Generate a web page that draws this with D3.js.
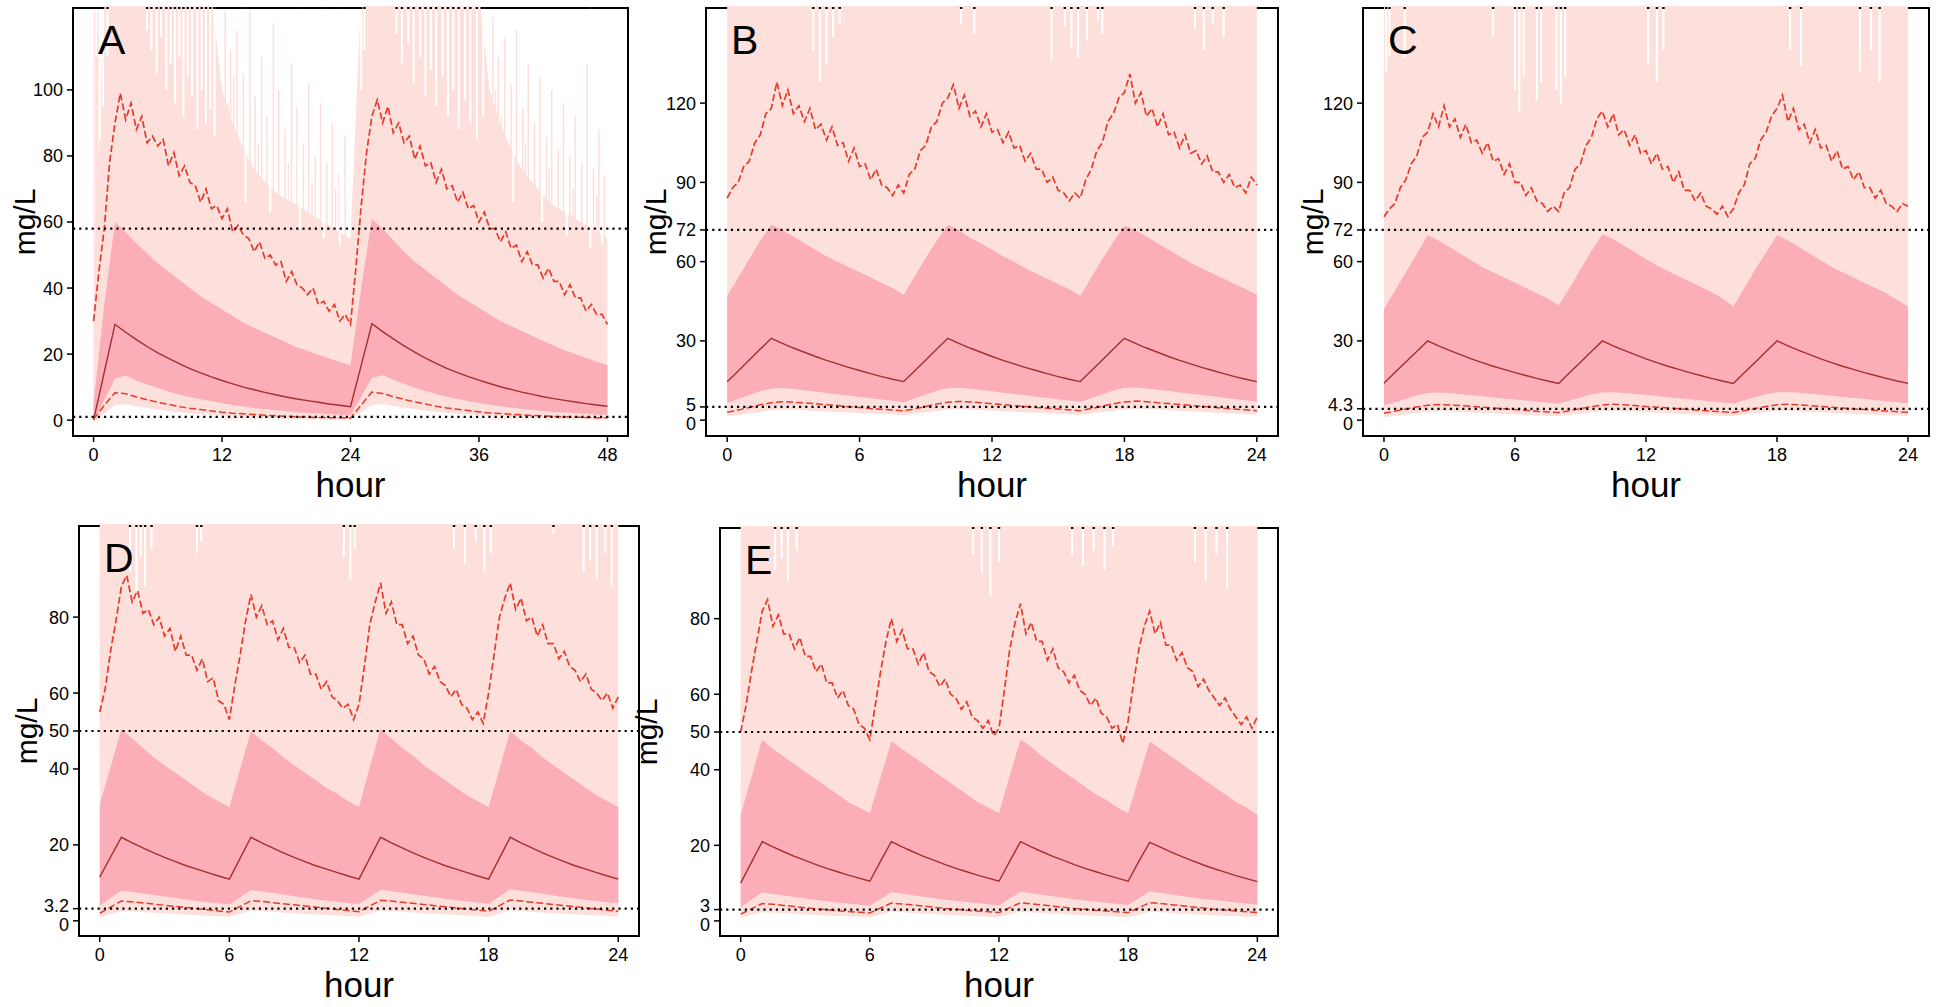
<!DOCTYPE html>
<html>
<head>
<meta charset="utf-8">
<script src="https://cdn.jsdelivr.net/npm/d3@7"></script>
<style>
  body { margin: 0; background: #fff; }
  svg text { font-family: "Liberation Sans", Arial, sans-serif; fill: #000; }
</style>
</head>
<body>
<svg id="chart" width="1946" height="1007"></svg>
<script>
// ---- Panel A: 0-48 h, band/median series every 1 h, upper dashed every 0.5 h
const aMedian = [0, 14.5, 29, 26.6, 24.4, 22.3, 20.4, 18.7, 17.1, 15.6, 14.3, 13.1, 12.0, 11.0, 10.0, 9.2, 8.4, 7.7, 7.0, 6.4, 5.9, 5.4, 4.9, 4.5, 4.1,
  16.6, 29.2, 26.8, 24.6, 22.5, 20.6, 18.8, 17.2, 15.7, 14.4, 13.2, 12.1, 11.1, 10.1, 9.3, 8.5, 7.8, 7.1, 6.5, 6.0, 5.5, 5.0, 4.6, 4.2];
const aInnerHi = [5, 35, 60, 57, 53.5, 50.5, 47.5, 45, 42.5, 40, 37.5, 35.5, 33.5, 31.5, 29.5, 28, 26.5, 25, 23.5, 22, 21, 19.8, 18.7, 17.6, 16.6,
  40, 61, 58, 54.5, 51, 48, 45.5, 43, 40.5, 38, 36, 34, 32, 30, 28.5, 27, 25.5, 24, 22.5, 21.2, 20, 18.8, 17.7, 16.7];
const aInnerLo = [0, 6, 12.5, 13.5, 12, 10.8, 9.7, 8.7, 7.8, 7, 6.3, 5.7, 5.1, 4.6, 4.1, 3.7, 3.3, 3, 2.7, 2.4, 2.2, 2, 1.8, 1.6, 1.5,
  7, 12.8, 13.6, 12.2, 11, 9.8, 8.8, 7.9, 7.1, 6.4, 5.8, 5.2, 4.7, 4.2, 3.8, 3.4, 3.1, 2.8, 2.5, 2.3, 2.1, 1.9, 1.7, 1.6];
const aOuterLo = [0, 2, 4.5, 4.8, 4.2, 3.7, 3.2, 2.8, 2.4, 2.1, 1.8, 1.6, 1.4, 1.2, 1, 0.9, 0.8, 0.7, 0.6, 0.5, 0.45, 0.4, 0.35, 0.3, 0.3,
  2.5, 4.6, 4.9, 4.3, 3.8, 3.3, 2.9, 2.5, 2.2, 1.9, 1.7, 1.5, 1.3, 1.1, 1, 0.9, 0.8, 0.7, 0.6, 0.5, 0.45, 0.4, 0.35, 0.3];
const aOuterHi = [35, 200, 200, 200, 200, 200, 200, 200, 200, 200, 200, 200, 100, 90, 82, 76, 72, 69, 67, 65, 63, 61, 59, 57, 55,
  200, 200, 200, 200, 200, 200, 200, 200, 200, 200, 200, 200, 100, 90, 82, 76, 72, 68, 65, 63, 61, 59, 57, 55];
const aLoDash = [0.3, 4.5, 8.3, 8, 7, 6.2, 5.4, 4.8, 4.1, 3.6, 3.2, 2.8, 2.4, 2.1, 1.9, 1.7, 1.5, 1.3, 1.2, 1, 0.9, 0.8, 0.75, 0.7, 0.6,
  4.6, 8.5, 8.1, 7.1, 6.3, 5.5, 4.9, 4.2, 3.7, 3.3, 2.9, 2.5, 2.2, 2, 1.8, 1.6, 1.4, 1.3, 1.1, 1, 0.9, 0.8, 0.75, 0.7];
const aHiDash = [30, 45, 58, 78, 90, 99, 91, 96, 88, 92, 84, 86, 83, 85, 77, 81, 74, 77, 72, 71,
  66, 70, 64, 65, 61, 64, 57, 59, 56, 55, 51, 54, 49, 50, 47, 48, 42, 45, 41, 40, 38, 40, 35, 36, 33, 35, 30, 32, 29,
  46, 65, 81, 92, 97, 90, 95, 87, 90, 84, 86, 79, 83, 77, 78, 72, 76, 70, 71, 66,
  69, 64, 65, 60, 63, 58, 58, 54, 57, 52, 53, 48, 51, 47, 47, 43, 46, 42, 42, 38, 41, 37, 37, 33, 35, 32, 32, 29];
const aWhiteSpikes = [[0.6, 85], [0.9, 95], [1.3, 110], [5.0, 118], [5.4, 112], [5.9, 105], [6.3, 116], [6.8, 100], [7.2, 108],
  [7.6, 96], [8.0, 110], [8.4, 92], [8.8, 104], [9.2, 98], [9.7, 88], [10.1, 100], [10.5, 90], [10.9, 94], [11.3, 86],
  [25.0, 100], [25.3, 112], [28.3, 117], [28.8, 108], [29.4, 114], [29.9, 102], [30.5, 110], [31.0, 98], [31.5, 106],
  [32.0, 95], [32.6, 104], [33.1, 92], [33.6, 100], [34.1, 88], [34.7, 97], [35.2, 90], [35.8, 85], [36.4, 92],
  [14.2, 66], [16.5, 63], [19.3, 58], [21.5, 55], [23.0, 53], [39.2, 66], [41.9, 60], [44.2, 56], [46.4, 52], [47.5, 53]];
const aPinkSpikes = [[0.1, 124], [0.25, 110], [0.4, 124], [12.3, 124], [12.8, 112], [13.4, 118], [14.0, 105], [14.6, 124],
  [15.1, 98], [15.7, 110], [16.2, 92], [16.8, 120], [17.3, 100], [17.9, 88], [18.5, 108], [19.0, 95], [19.6, 84], [20.1, 102],
  [20.7, 80], [21.2, 96], [21.8, 78], [22.3, 90], [22.9, 75], [23.5, 86], [12.55, 96], [13.1, 104], [15.4, 84], [18.2, 78],
  [20.4, 72], [22.6, 70], [37.3, 122], [37.8, 110], [38.4, 116], [39.0, 102], [39.5, 118], [40.1, 95], [40.6, 108], [41.2, 90],
  [41.7, 104], [42.3, 86], [42.8, 100], [43.4, 82], [43.9, 96], [44.5, 80], [45.0, 92], [45.6, 78], [46.1, 108], [46.7, 76],
  [47.2, 88], [47.7, 74], [37.55, 100], [38.1, 92], [40.35, 84], [42.55, 76], [44.8, 70], [47.0, 68]];

// ---- Panel B: 0-24 h, band/median every 0.5 h, upper dashed every 0.25 h
const bMedian = [14.5, 18.6, 22.8, 26.9, 31, 29.1, 27.3, 25.7, 24.1, 22.6, 21.3, 20, 18.8, 17.6, 16.5, 15.5, 14.6,
  18.7, 22.8, 26.9, 31, 29.1, 27.3, 25.7, 24.1, 22.6, 21.3, 20, 18.8, 17.6, 16.5, 15.5, 14.6,
  18.7, 22.8, 26.9, 31, 29.1, 27.3, 25.7, 24.1, 22.6, 21.3, 20, 18.8, 17.6, 16.5, 15.5, 14.6];
const bInnerHi = [47, 54, 61, 68, 74, 72, 69.5, 67, 64.5, 62, 60, 58, 56, 54, 52, 50, 47.5,
  54.5, 61.5, 68, 74, 72, 69, 67, 64.5, 62, 60, 57.5, 55.5, 53.5, 51.5, 49.5, 47,
  54, 61, 67.5, 73.5, 72, 69.5, 67, 64.5, 62, 59.5, 57.5, 55.5, 53.5, 51.5, 49.5, 47.5];
const bInnerLo = [6.5, 8, 9.5, 11, 12, 12.2, 11.8, 11.3, 10.8, 10.3, 9.8, 9.3, 8.8, 8.3, 7.8, 7.3, 6.8,
  8.2, 9.7, 11.1, 12.1, 12.3, 11.9, 11.4, 10.9, 10.4, 9.9, 9.4, 8.9, 8.4, 7.9, 7.4, 6.9,
  8.3, 9.8, 11.2, 12.2, 12.4, 12, 11.5, 11, 10.5, 10, 9.5, 9, 8.5, 8, 7.5, 7];
const bOuterLo = [1.5, 1.9, 2.5, 3.1, 3.7, 4, 3.9, 3.7, 3.5, 3.3, 3.1, 2.9, 2.7, 2.5, 2.3, 2.1, 1.9,
  2.4, 3, 3.5, 3.9, 4.1, 4, 3.8, 3.6, 3.4, 3.2, 3, 2.8, 2.6, 2.4, 2.2, 2,
  2.5, 3.1, 3.6, 4, 4.2, 4.1, 3.9, 3.7, 3.5, 3.3, 3.1, 2.9, 2.7, 2.5, 2.3, 2.1];
const bLoDash = [3, 3.8, 4.8, 5.8, 6.6, 7, 6.8, 6.5, 6.2, 5.8, 5.5, 5.1, 4.8, 4.4, 4.1, 3.8, 3.5,
  4.3, 5.2, 6.1, 6.8, 7.1, 6.9, 6.6, 6.2, 5.9, 5.5, 5.2, 4.8, 4.5, 4.2, 3.9, 3.6,
  4.4, 5.3, 6.2, 6.9, 7.2, 7, 6.6, 6.3, 5.9, 5.6, 5.2, 4.9, 4.5, 4.2, 3.9, 3.6];
const bHiDash = [84, 88, 90, 96, 98, 105, 108, 116, 118, 128, 119, 125, 116, 119, 113, 118, 110, 112, 106, 111,
  104, 105, 98, 103, 96, 97, 91, 95, 89, 88, 85, 89, 86,
  93, 95, 102, 104, 111, 113, 120, 122, 127, 118, 123, 115, 117, 111, 116, 109, 110, 105, 109, 103,
  104, 98, 101, 95, 95, 90, 92, 87, 86, 83, 86, 84,
  91, 95, 102, 105, 113, 116, 122, 124, 131, 120, 124, 115, 118, 111, 116, 108, 109, 103, 108, 101,
  102, 97, 100, 94, 94, 90, 93, 88, 89, 86, 92, 89];
const bWhiteSpikes = [[3.9, 140], [4.2, 128], [4.5, 135], [4.8, 145], [5.1, 150], [10.6, 150], [11.2, 146], [14.7, 136],
  [15.3, 149], [15.6, 141], [15.9, 137], [16.3, 144], [16.8, 151], [17.0, 146], [21.2, 148], [21.6, 140], [22.0, 150], [22.5, 145]];

// ---- Panel C
const cMedian = [14, 18, 22, 26, 30, 28.1, 26.4, 24.8, 23.2, 21.8, 20.4, 19.2, 18, 16.9, 15.8, 14.8, 13.9,
  17.9, 21.9, 26, 30, 28.1, 26.4, 24.8, 23.2, 21.8, 20.4, 19.2, 18, 16.9, 15.8, 14.8, 13.9,
  17.9, 21.9, 26, 30, 28.1, 26.4, 24.8, 23.2, 21.8, 20.4, 19.2, 18, 16.9, 15.8, 14.8, 13.9];
const cInnerHi = [42, 49, 56, 63, 70, 68, 65.5, 63, 60.5, 58, 56, 54, 52, 50, 48, 46, 43.5,
  50, 57, 64, 70.5, 68.5, 66, 63.5, 61, 58.5, 56.5, 54.5, 52.5, 50.5, 48.5, 46, 43,
  50, 57, 63.5, 70, 68, 65.5, 63, 60.5, 58, 56, 54, 52, 50, 48, 45.5, 43];
const cInnerLo = [5.5, 6.8, 8.1, 9.4, 10.3, 10.5, 10.2, 9.8, 9.4, 9, 8.6, 8.2, 7.8, 7.4, 7, 6.6, 6.2,
  7.4, 8.6, 9.7, 10.5, 10.6, 10.3, 9.9, 9.5, 9.1, 8.7, 8.3, 7.9, 7.5, 7.1, 6.7, 6.3,
  7.5, 8.7, 9.8, 10.6, 10.7, 10.4, 10, 9.6, 9.2, 8.8, 8.4, 8, 7.6, 7.2, 6.8, 6.4];
const cOuterLo = [1.2, 1.6, 2.1, 2.7, 3.2, 3.4, 3.3, 3.1, 2.9, 2.7, 2.5, 2.3, 2.1, 1.9, 1.8, 1.6, 1.5,
  2, 2.5, 3, 3.4, 3.5, 3.4, 3.2, 3, 2.8, 2.6, 2.4, 2.2, 2, 1.9, 1.7, 1.6,
  2.1, 2.6, 3.1, 3.5, 3.6, 3.4, 3.2, 3, 2.8, 2.6, 2.4, 2.2, 2, 1.9, 1.7, 1.6];
const cLoDash = [2.6, 3.4, 4.2, 5, 5.6, 5.9, 5.7, 5.5, 5.2, 4.9, 4.6, 4.3, 4, 3.7, 3.4, 3.1, 2.9,
  3.6, 4.4, 5.1, 5.7, 6, 5.8, 5.5, 5.2, 4.9, 4.6, 4.3, 4, 3.7, 3.4, 3.2, 2.9,
  3.6, 4.4, 5.2, 5.8, 6, 5.8, 5.5, 5.2, 4.9, 4.6, 4.3, 4, 3.7, 3.5, 3.2, 3];
const cHiDash = [77, 80, 82, 88, 91, 97, 100, 107, 109, 116, 111, 119, 111, 114, 107, 112, 105, 106, 101, 105,
  98, 99, 93, 97, 90, 90, 85, 88, 83, 82, 79, 81, 79,
  86, 88, 95, 97, 104, 107, 114, 117, 111, 116, 108, 110, 104, 108, 101, 102, 97, 101, 95, 96,
  90, 94, 87, 87, 83, 86, 81, 80, 78, 81, 77, 80,
  86, 89, 97, 99, 106, 109, 115, 118, 123, 113, 118, 110, 112, 105, 110, 103, 104, 98, 102, 95,
  96, 91, 94, 88, 88, 84, 87, 82, 81, 79, 82, 81];
const cWhiteSpikes = [[0.1, 132], [0.25, 138], [0.95, 137], [5.0, 145], [6.0, 125], [6.2, 117], [6.4, 130], [7.0, 121],
  [7.2, 128], [7.9, 125], [8.1, 120], [8.3, 130], [12.1, 135], [12.5, 128], [12.8, 140], [18.6, 140], [19.1, 134],
  [21.8, 132], [22.3, 140], [22.7, 128]];

// ---- Panel D
const dMedian = [11.5, 16.8, 22, 20.5, 19.2, 17.9, 16.7, 15.6, 14.5, 13.6, 12.7, 11.8, 11,
  16.5, 22, 20.5, 19.2, 17.9, 16.7, 15.6, 14.5, 13.6, 12.7, 11.8, 11,
  16.5, 22, 20.5, 19.2, 17.9, 16.7, 15.6, 14.5, 13.6, 12.7, 11.8, 11,
  16.5, 22, 20.5, 19.2, 17.9, 16.7, 15.6, 14.5, 13.6, 12.7, 11.8, 11];
const dInnerHi = [30.5, 40.5, 50.5, 48, 45.5, 43, 41, 39, 37, 35, 33, 31.5, 30,
  40, 50, 47.5, 45.5, 43, 41, 39, 37, 35, 33.5, 31.5, 30,
  40.5, 50.5, 48, 45.5, 43.5, 41, 39, 37, 35, 33, 31.5, 30,
  40, 50, 47.5, 45.5, 43, 41, 39, 37, 35, 33, 31.5, 30];
const dInnerLo = [4, 6, 8, 7.6, 7.2, 6.8, 6.4, 6, 5.6, 5.2, 4.9, 4.6, 4.3,
  6.2, 8.1, 7.7, 7.3, 6.9, 6.5, 6.1, 5.7, 5.3, 5, 4.7, 4.4,
  6.3, 8.2, 7.8, 7.4, 7, 6.6, 6.2, 5.8, 5.4, 5.1, 4.8, 4.5,
  6.4, 8.3, 7.9, 7.5, 7.1, 6.7, 6.3, 5.9, 5.5, 5.2, 4.9, 4.6];
const dOuterLo = [1, 1.8, 2.6, 2.5, 2.3, 2.1, 2, 1.8, 1.6, 1.5, 1.3, 1.2, 1.1,
  1.9, 2.7, 2.6, 2.4, 2.2, 2, 1.8, 1.7, 1.5, 1.4, 1.2, 1.1,
  1.9, 2.7, 2.6, 2.4, 2.2, 2, 1.8, 1.7, 1.5, 1.4, 1.2, 1.1,
  1.9, 2.8, 2.6, 2.4, 2.2, 2, 1.8, 1.7, 1.5, 1.4, 1.2, 1.1];
const dLoDash = [2, 3.6, 5.2, 5, 4.7, 4.4, 4.1, 3.8, 3.5, 3.2, 2.9, 2.6, 2.3,
  3.8, 5.3, 5.1, 4.8, 4.5, 4.2, 3.9, 3.6, 3.3, 3, 2.7, 2.4,
  3.9, 5.4, 5.2, 4.9, 4.6, 4.3, 4, 3.7, 3.4, 3.1, 2.8, 2.5,
  4, 5.5, 5.2, 4.9, 4.6, 4.3, 4, 3.7, 3.4, 3.1, 2.8, 2.5];
const dHiDash = [55, 61, 71, 79, 88, 91, 84, 87, 81, 82, 78, 80, 75, 77, 71, 75, 70, 70, 66, 69, 63, 64, 58, 57, 53,
  62, 70, 79, 86, 80, 83, 78, 79, 74, 77, 72, 72, 68, 70, 65, 65, 61, 63, 59, 58, 56, 57, 53, 57,
  67, 78, 84, 89, 81, 84, 78, 78, 73, 75, 70, 69, 65, 67, 63, 62, 59, 61, 57, 56, 53, 55, 52, 60,
  70, 80, 85, 89, 82, 85, 79, 80, 75, 78, 73, 73, 69, 71, 67, 66, 63, 65, 61, 60, 58, 60, 56, 59];
const dWhiteSpikes = [[1.4, 92], [1.7, 85], [1.9, 96], [2.1, 88], [2.4, 98], [4.5, 97], [4.7, 100], [11.3, 96], [11.6, 90],
  [11.8, 98], [16.4, 98], [16.9, 94], [17.4, 100], [17.8, 92], [18.1, 97], [21.0, 102], [22.4, 92], [22.7, 95], [23.0, 90],
  [23.4, 97], [23.7, 88]];

// ---- Panel E
const eMedian = [10, 15.5, 21, 19.6, 18.3, 17.1, 16, 14.9, 13.9, 13, 12.1, 11.3, 10.5,
  15.8, 21, 19.6, 18.3, 17.1, 16, 14.9, 13.9, 13, 12.1, 11.3, 10.5,
  15.8, 21, 19.6, 18.3, 17.1, 16, 14.9, 13.9, 13, 12.1, 11.3, 10.5,
  15.8, 20.8, 19.5, 18.2, 17, 15.9, 14.8, 13.8, 12.9, 12, 11.2, 10.4];
const eInnerHi = [28, 38, 48, 45.5, 43.5, 41.5, 39.5, 37.5, 35.5, 33.5, 31.5, 30, 28.5,
  38, 47.5, 45.5, 43.5, 41.5, 39.5, 37.5, 35.5, 33.5, 31.5, 30, 28.5,
  38.5, 48, 46, 43.5, 41.5, 39.5, 37.5, 35.5, 33.5, 32, 30, 28.5,
  38, 47.5, 45.5, 43.5, 41.5, 39.5, 37.5, 35.5, 33.5, 31.5, 30, 28];
const eInnerLo = [3.6, 5.6, 7.5, 7.1, 6.7, 6.3, 5.9, 5.5, 5.2, 4.9, 4.6, 4.3, 4,
  5.8, 7.6, 7.2, 6.8, 6.4, 6, 5.6, 5.3, 5, 4.7, 4.4, 4.1,
  5.9, 7.7, 7.3, 6.9, 6.5, 6.1, 5.7, 5.4, 5.1, 4.8, 4.5, 4.2,
  6, 7.8, 7.4, 7, 6.6, 6.2, 5.8, 5.5, 5.2, 4.9, 4.6, 4.3];
const eOuterLo = [0.9, 1.6, 2.3, 2.2, 2, 1.9, 1.7, 1.6, 1.4, 1.3, 1.2, 1.1, 1,
  1.7, 2.4, 2.3, 2.1, 1.9, 1.8, 1.6, 1.5, 1.3, 1.2, 1.1, 1,
  1.7, 2.4, 2.3, 2.1, 1.9, 1.8, 1.6, 1.5, 1.3, 1.2, 1.1, 1,
  1.7, 2.4, 2.3, 2.1, 1.9, 1.8, 1.6, 1.5, 1.3, 1.2, 1.1, 1];
const eLoDash = [1.8, 3.2, 4.6, 4.4, 4.1, 3.8, 3.5, 3.2, 3, 2.7, 2.5, 2.3, 2.1,
  3.4, 4.7, 4.5, 4.2, 3.9, 3.6, 3.3, 3.1, 2.8, 2.6, 2.4, 2.2,
  3.5, 4.8, 4.5, 4.2, 3.9, 3.6, 3.3, 3.1, 2.8, 2.6, 2.4, 2.2,
  3.5, 4.8, 4.6, 4.3, 4, 3.7, 3.4, 3.1, 2.9, 2.6, 2.4, 2.2];
const eHiDash = [50, 57, 66, 74, 82, 85, 78, 81, 76, 76, 72, 75, 70, 70, 66, 68, 63, 63, 59, 61, 57, 56, 52, 51, 48,
  57, 66, 74, 80, 74, 77, 72, 72, 68, 71, 66, 65, 62, 64, 60, 59, 56, 58, 54, 53, 51, 53, 49, 51,
  61, 72, 79, 84, 76, 79, 74, 74, 69, 72, 67, 66, 63, 65, 61, 60, 57, 59, 55, 54, 51, 52, 47, 53,
  63, 72, 78, 82, 76, 79, 73, 73, 69, 71, 67, 66, 62, 64, 61, 59, 57, 59, 56, 54, 52, 54, 51, 54];
const eWhiteSpikes = [[1.6, 93], [1.9, 96], [2.2, 90], [2.6, 98], [10.8, 97], [11.2, 92], [11.6, 86], [12.0, 95], [15.4, 97],
  [15.9, 94], [16.4, 98], [16.9, 93], [17.3, 99], [21.1, 95], [21.6, 90], [22.1, 97], [22.6, 88]];

// axis ticks and threshold lines
const ticksA = [0, 20, 40, 60, 80, 100];
const ticksB = [0, 5, 30, 60, 72, 90, 120];
const ticksC = [0, 4.3, 30, 60, 72, 90, 120];
const ticksD = [0, 3.2, 20, 40, 50, 60, 80];
const ticksE = [0, 3, 20, 40, 50, 60, 80];
const hourTicks48 = [0, 12, 24, 36, 48];
const hourTicks24 = [0, 6, 12, 18, 24];
const cutsA = [58, 1];
const cutsB = [72, 5];
const cutsC = [72, 4.3];
const cutsD = [50, 3.2];
const cutsE = [50, 3];

// layout: frame [left, top, right, bottom], x of y-label
const panels = [
  { id: "A", box: [73, 8, 628, 436], ylabX: 24, xMax: 48, yMax: 120, step: 1, dashStep: 0.5, xTicks: hourTicks48, yTicks: ticksA, cuts: cutsA,
    median: aMedian, innerHi: aInnerHi, innerLo: aInnerLo, outerLo: aOuterLo, outerHi: aOuterHi, loDash: aLoDash, hiDash: aHiDash,
    whiteSpikes: aWhiteSpikes, pinkSpikes: aPinkSpikes },
  { id: "B", box: [706, 8, 1278, 436], ylabX: 655, xMax: 24, yMax: 150, step: 0.5, dashStep: 0.25, xTicks: hourTicks24, yTicks: ticksB, cuts: cutsB,
    median: bMedian, innerHi: bInnerHi, innerLo: bInnerLo, outerLo: bOuterLo, loDash: bLoDash, hiDash: bHiDash, whiteSpikes: bWhiteSpikes },
  { id: "C", box: [1363, 8, 1929, 436], ylabX: 1312, xMax: 24, yMax: 150, step: 0.5, dashStep: 0.25, xTicks: hourTicks24, yTicks: ticksC, cuts: cutsC,
    median: cMedian, innerHi: cInnerHi, innerLo: cInnerLo, outerLo: cOuterLo, loDash: cLoDash, hiDash: cHiDash, whiteSpikes: cWhiteSpikes },
  { id: "D", box: [79, 526, 639, 936], ylabX: 26, xMax: 24, yMax: 100, step: 0.5, dashStep: 0.25, xTicks: hourTicks24, yTicks: ticksD, cuts: cutsD,
    median: dMedian, innerHi: dInnerHi, innerLo: dInnerLo, outerLo: dOuterLo, loDash: dLoDash, hiDash: dHiDash, whiteSpikes: dWhiteSpikes },
  { id: "E", box: [720, 528, 1278, 936], ylabX: 646, xMax: 24, yMax: 100, step: 0.5, dashStep: 0.25, xTicks: hourTicks24, yTicks: ticksE, cuts: cutsE,
    median: eMedian, innerHi: eInnerHi, innerLo: eInnerLo, outerLo: eOuterLo, loDash: eLoDash, hiDash: eHiDash, whiteSpikes: eWhiteSpikes }
];

const colOuter = "#fde0dc";
const colInner = "#fbaeb8";
const colMedian = "#a3302f";
const colDash = "#e63a2c";

const svg = d3.select("#chart");

function drawPanel(p) {
  const [L, T, R, B] = p.box;
  // base R style 4% padding on both axes
  const x = d3.scaleLinear().domain([-0.04 * p.xMax, 1.04 * p.xMax]).range([L, R]);
  const y = d3.scaleLinear().domain([-0.04 * p.yMax, 1.04 * p.yMax]).range([B, T]);
  const yTop = 1.04 * p.yMax + 4;
  const g = svg.append("g");

  svg.append("clipPath").attr("id", "clip" + p.id)
    .append("rect").attr("x", L).attr("y", T - 2).attr("width", R - L).attr("height", B - T + 2);

  // frame first, the outer band paints over its top edge like the original
  g.append("rect").attr("x", L).attr("y", T).attr("width", R - L).attr("height", B - T)
    .attr("fill", "none").attr("stroke", "#000").attr("stroke-width", 2);

  const plot = g.append("g").attr("clip-path", `url(#clip${p.id})`);
  const rows = p.median.map((m, i) => ({
    t: i * p.step, m,
    iHi: p.innerHi[i], iLo: p.innerLo[i], oLo: p.outerLo[i],
    oHi: p.outerHi ? Math.min(p.outerHi[i], yTop) : yTop,
    dLo: p.loDash[i]
  }));
  const dashRows = p.hiDash.map((v, i) => ({ t: i * p.dashStep, v }));

  plot.append("path").datum(rows).attr("fill", colOuter)
    .attr("d", d3.area().x(d => x(d.t)).y0(d => y(d.oLo)).y1(d => y(d.oHi)));

  if (p.pinkSpikes) {
    plot.selectAll(".pspike").data(p.pinkSpikes).join("line")
      .attr("x1", d => x(d[0])).attr("x2", d => x(d[0]))
      .attr("y1", d => y(d[1])).attr("y2", y(0))
      .attr("stroke", colOuter).attr("stroke-width", 1.5);
  }
  plot.selectAll(".wspike").data(p.whiteSpikes).join("line")
    .attr("x1", d => x(d[0])).attr("x2", d => x(d[0]))
    .attr("y1", y(yTop)).attr("y2", d => y(d[1]))
    .attr("stroke", "#fff").attr("stroke-width", 2);
  // frame edge shows through the gaps
  plot.selectAll(".wtop").data(p.whiteSpikes).join("line")
    .attr("x1", d => x(d[0]) - 1.2).attr("x2", d => x(d[0]) + 1.2)
    .attr("y1", T).attr("y2", T)
    .attr("stroke", "#000").attr("stroke-width", 2);

  plot.append("path").datum(rows).attr("fill", colInner)
    .attr("d", d3.area().x(d => x(d.t)).y0(d => y(d.iLo)).y1(d => y(d.iHi)));

  plot.append("path").datum(rows).attr("fill", "none")
    .attr("stroke", colMedian).attr("stroke-width", 1.4)
    .attr("d", d3.line().x(d => x(d.t)).y(d => y(d.m)));

  plot.append("path").datum(rows).attr("fill", "none")
    .attr("stroke", colDash).attr("stroke-width", 1.5).attr("stroke-dasharray", "7,3")
    .attr("d", d3.line().x(d => x(d.t)).y(d => y(d.dLo)));

  plot.append("path").datum(dashRows).attr("fill", "none")
    .attr("stroke", colDash).attr("stroke-width", 1.7).attr("stroke-dasharray", "7,3")
    .attr("d", d3.line().x(d => x(d.t)).y(d => y(d.v)));

  // threshold lines
  g.selectAll(".cut").data(p.cuts).join("line")
    .attr("x1", L).attr("x2", R).attr("y1", d => y(d)).attr("y2", d => y(d))
    .attr("stroke", "#000").attr("stroke-width", 2.2).attr("stroke-dasharray", "2.2,4");

  // axes; labels that sit too close (threshold next to 0) are spread a little
  const labelY = p.yTicks.map(v => y(v));
  for (let i = 1; i < labelY.length; i++) {
    const gap = labelY[i - 1] - labelY[i];
    if (gap < 19) {
      labelY[i - 1] += (19 - gap) / 2;
      labelY[i] -= (19 - gap) / 2;
    }
  }
  const yAxis = g.append("g");
  yAxis.selectAll("line").data(p.yTicks).join("line")
    .attr("x1", L - 6).attr("x2", L).attr("y1", d => y(d)).attr("y2", d => y(d))
    .attr("stroke", "#000").attr("stroke-width", 1.5);
  yAxis.selectAll("text").data(p.yTicks).join("text")
    .attr("x", L - 10).attr("y", (d, i) => labelY[i]).attr("dy", "0.36em")
    .attr("text-anchor", "end").attr("font-size", 18).text(d => d);

  const xAxis = g.append("g");
  xAxis.selectAll("line").data(p.xTicks).join("line")
    .attr("x1", d => x(d)).attr("x2", d => x(d)).attr("y1", B).attr("y2", B + 6)
    .attr("stroke", "#000").attr("stroke-width", 1.5);
  xAxis.selectAll("text").data(p.xTicks).join("text")
    .attr("x", d => x(d)).attr("y", B + 25)
    .attr("text-anchor", "middle").attr("font-size", 18).text(d => d);

  g.append("text").attr("x", (L + R) / 2).attr("y", B + 61)
    .attr("text-anchor", "middle").attr("font-size", 35).text("hour");
  g.append("text").attr("transform", `translate(${p.ylabX},${(T + B) / 2}) rotate(-90)`)
    .attr("text-anchor", "middle").attr("dy", "0.35em").attr("font-size", 30).text("mg/L");
  g.append("text").attr("x", L + 25).attr("y", T + 46).attr("font-size", 41).text(p.id);
}

panels.forEach(drawPanel);
</script>
</body>
</html>
